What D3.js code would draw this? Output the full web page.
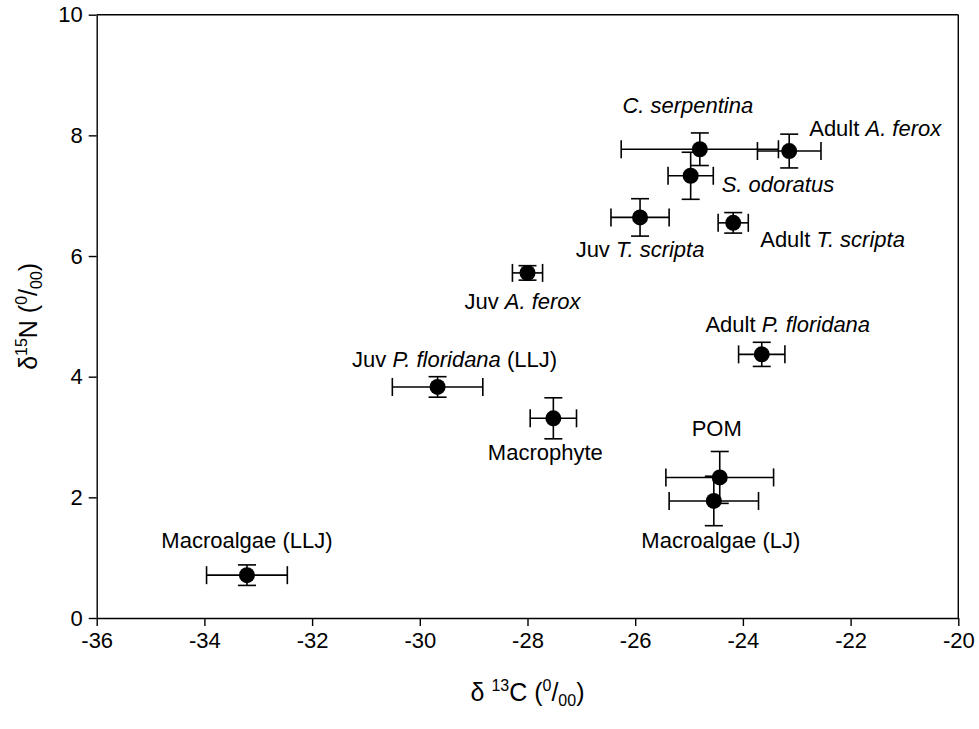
<!DOCTYPE html>
<html>
<head>
<meta charset="utf-8">
<script src="https://cdn.jsdelivr.net/npm/d3@7"></script>
<style>
  html, body { margin: 0; padding: 0; background: #fff; }
  svg text { font-family: Arial, "Liberation Sans", sans-serif; fill: #000; }
</style>
</head>
<body>
<svg id="chart" width="979" height="729"></svg>
<script>
// Stable isotope values (mean ± SD) for each sample group
const groups = [
  "Macroalgae (LLJ)", "Juv P. floridana (LLJ)", "Macrophyte", "Juv A. ferox",
  "Juv T. scripta", "S. odoratus", "C. serpentina", "Adult A. ferox",
  "Adult T. scripta", "Adult P. floridana", "POM", "Macroalgae (LJ)"
];
const d13C = [-33.21, -29.67, -27.52, -28.00, -25.91, -24.97, -24.80, -23.14, -24.18, -23.65, -24.43, -24.54];
const d15N = [0.71, 3.83, 3.31, 5.72, 6.64, 7.33, 7.77, 7.74, 6.55, 4.37, 2.33, 1.94];
const sdC  = [0.75, 0.84, 0.43, 0.28, 0.54, 0.42, 1.46, 0.59, 0.28, 0.43, 1.00, 0.83];
const sdN  = [0.17, 0.17, 0.34, 0.12, 0.31, 0.39, 0.27, 0.28, 0.17, 0.20, 0.43, 0.41];

// Label text split into plain / italic runs
const labelRuns = [
  [["Macroalgae (LLJ)", false]],
  [["Juv ", false], ["P. floridana", true], [" (LLJ)", false]],
  [["Macrophyte", false]],
  [["Juv ", false], ["A. ferox", true]],
  [["Juv ", false], ["T. scripta", true]],
  [["S. odoratus", true]],
  [["C. serpentina", true]],
  [["Adult ", false], ["A. ferox", true]],
  [["Adult ", false], ["T. scripta", true]],
  [["Adult ", false], ["P. floridana", true]],
  [["POM", false]],
  [["Macroalgae (LJ)", false]]
];

const xTicks = [-36, -34, -32, -30, -28, -26, -24, -22, -20];
const yTicks = [0, 2, 4, 6, 8, 10];

// Label placement relative to each point (pixels)
const labelLayout = [
  { dx: 0, dy: -27, anchor: "middle" },
  { dx: 17, dy: -20, anchor: "middle" },
  { dx: -8, dy: 42, anchor: "middle" },
  { dx: -5, dy: 36, anchor: "middle" },
  { dx: 0, dy: 40, anchor: "middle" },
  { dx: 31, dy: 16, anchor: "start" },
  { dx: -12, dy: -36, anchor: "middle" },
  { dx: 20, dy: -15, anchor: "start" },
  { dx: 27, dy: 24, anchor: "start" },
  { dx: 26, dy: -22, anchor: "middle" },
  { dx: -3, dy: -41, anchor: "middle" },
  { dx: 7, dy: 47, anchor: "middle" }
];

const svg = d3.select("#chart");
const plotL = 96.7, plotR = 958.3, plotT = 14.7, plotB = 618;

const x = d3.scaleLinear().domain([-36, -20]).range([plotL, plotR]);
const y = d3.scaleLinear().domain([0, 10]).range([plotB, plotT]);

const fs = 22;
const plain = d => String(d);

// Axes
const xAxis = svg.append("g")
  .attr("transform", `translate(0,${plotB})`)
  .call(d3.axisBottom(x).tickValues(xTicks).tickFormat(plain).tickSize(8).tickPadding(6).tickSizeOuter(0));
const yAxis = svg.append("g")
  .attr("transform", `translate(${plotL},0)`)
  .call(d3.axisLeft(y).tickValues(yTicks).tickFormat(plain).tickSize(8).tickPadding(6).tickSizeOuter(0));

[xAxis, yAxis].forEach(g => {
  g.select(".domain").attr("stroke", "#000").attr("stroke-width", 1.4);
  g.selectAll(".tick line").attr("stroke", "#000").attr("stroke-width", 1.4);
  g.selectAll(".tick text").attr("font-size", fs).attr("fill", "#000")
    .attr("font-family", "Arial, 'Liberation Sans', sans-serif");
});

// Frame: top and right edges
svg.append("line").attr("x1", plotL).attr("x2", plotR).attr("y1", plotT).attr("y2", plotT)
  .attr("stroke", "#000").attr("stroke-width", 1.4);
svg.append("line").attr("x1", plotR).attr("x2", plotR).attr("y1", plotT).attr("y2", plotB)
  .attr("stroke", "#000").attr("stroke-width", 1.4);

// Error bars
const cap = 9;
const idx = d3.range(groups.length);
const eb = svg.append("g").attr("stroke", "#000").attr("stroke-width", 1.6).attr("fill", "none");
idx.forEach(i => {
  const cx = x(d13C[i]), cy = y(d15N[i]);
  const x0 = x(d13C[i] - sdC[i]), x1 = x(d13C[i] + sdC[i]);
  const y0 = y(d15N[i] - sdN[i]), y1 = y(d15N[i] + sdN[i]);
  eb.append("line").attr("x1", x0).attr("x2", x1).attr("y1", cy).attr("y2", cy);
  eb.append("line").attr("x1", x0).attr("x2", x0).attr("y1", cy - cap).attr("y2", cy + cap);
  eb.append("line").attr("x1", x1).attr("x2", x1).attr("y1", cy - cap).attr("y2", cy + cap);
  eb.append("line").attr("x1", cx).attr("x2", cx).attr("y1", y0).attr("y2", y1);
  eb.append("line").attr("x1", cx - cap).attr("x2", cx + cap).attr("y1", y0).attr("y2", y0);
  eb.append("line").attr("x1", cx - cap).attr("x2", cx + cap).attr("y1", y1).attr("y2", y1);
});

// Points
svg.append("g").selectAll("circle").data(idx).join("circle")
  .attr("cx", i => x(d13C[i])).attr("cy", i => y(d15N[i]))
  .attr("r", 8).attr("fill", "#000");

// Point labels
const lab = svg.append("g").attr("font-size", fs);
idx.forEach(i => {
  const L = labelLayout[i];
  const t = lab.append("text")
    .attr("x", x(d13C[i]) + L.dx).attr("y", y(d15N[i]) + L.dy)
    .attr("text-anchor", L.anchor);
  labelRuns[i].forEach(([s, it]) => {
    t.append("tspan").attr("font-style", it ? "italic" : "normal").text(s);
  });
});

// Axis titles
const tfs = 25, sfs = 16;
const xt = svg.append("text").attr("x", (plotL + plotR) / 2).attr("y", 701)
  .attr("text-anchor", "middle").attr("font-size", tfs);
xt.append("tspan").text("\u03B4 ");
xt.append("tspan").attr("font-size", sfs).attr("dy", -10).text("13");
xt.append("tspan").attr("dy", 10).text("C (");
xt.append("tspan").attr("font-size", sfs).attr("dy", -10).text("0");
xt.append("tspan").attr("dy", 10).text("/");
xt.append("tspan").attr("font-size", sfs).attr("dy", 5).text("00");
xt.append("tspan").attr("dy", -5).text(")");

const yt = svg.append("text")
  .attr("transform", `translate(37,${(plotT + plotB) / 2}) rotate(-90)`)
  .attr("text-anchor", "middle").attr("font-size", tfs);
yt.append("tspan").text("\u03B4");
yt.append("tspan").attr("font-size", sfs).attr("dy", -10).text("15");
yt.append("tspan").attr("dy", 10).text("N (");
yt.append("tspan").attr("font-size", sfs).attr("dy", -10).text("0");
yt.append("tspan").attr("dy", 10).text("/");
yt.append("tspan").attr("font-size", sfs).attr("dy", 5).text("00");
yt.append("tspan").attr("dy", -5).text(")");
</script>
</body>
</html>
